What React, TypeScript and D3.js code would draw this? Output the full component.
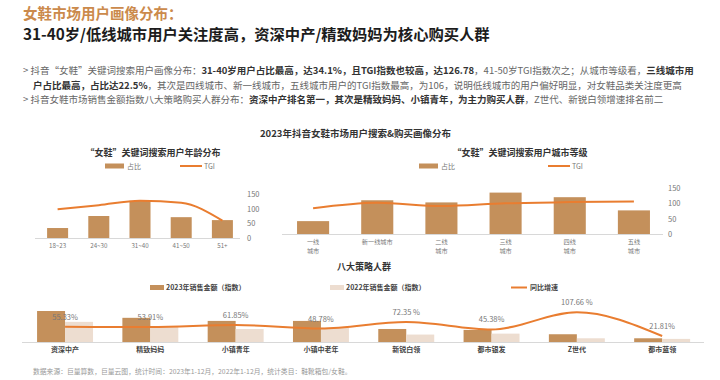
import React from "react";
import * as d3 from "d3";

const ageCats = ["18~23", "24~30", "31~40", "41~50", "51+"];
const ageShare = [34, 75, 127, 71, 61];
const ageTGI = [98, 112, 127, 120, 59];

const cityCats = ["一线\n城市", "新一线城市", "二线\n城市", "三线\n城市", "四线\n城市", "五线\n城市"];
const cityShare = [42, 110, 103, 135, 120, 77];
const cityTGI = [84, 102, 91, 100, 104, 106];

const axisTicks = [0, 50, 100, 150];

const groupCats = ["资深中产", "精致妈妈", "小镇青年", "小镇中老年", "新锐白领", "都市银发", "Z世代", "都市蓝领"];
const sales2023 = [100, 78, 68, 68, 42, 39, 25, 12];
const sales2022 = [65, 51, 42, 46, 24, 27, 12, 10];
const growth = [55.33, 53.91, 61.85, 48.78, 72.35, 45.38, 107.66, 21.81];
const growthLabels = ["55.33%", "53.91%", "61.85%", "48.78%", "72.35 %", "45.38%", "107.66 %", "21.81%"];

const TAN = "#C4905B";
const LIGHT = "#EDDDD0";
const LINE = "#E97D30";
const CJK = "'Noto Sans CJK SC', 'Noto Sans', sans-serif";

function SmallChart(props: {
  cats: string[]; share: number[]; tgi: number[];
  x0: number; x1: number; y0: number; y1: number; axisX: number; pad: number;
  title: string; titleX: number; legShare: number; legTgi: number;
  curve: any; lineStart: number; lineEnd: number;
}) {
  const { cats, share, tgi, x0, x1, y0, y1, axisX, pad, title, titleX, legShare, legTgi, curve, lineStart, lineEnd } = props;
  const x = d3.scaleBand<string>().domain(cats).range([x0, x1]).paddingInner(pad).paddingOuter(pad / 2);
  const y = d3.scaleLinear().domain([0, 150]).range([y0, y1]);
  const line = d3.line<number>()
    .x((_, i) => (x(cats[i]) as number) + x.bandwidth() / 2)
    .y((d) => y(d))
    .curve(curve);
  return (
    <g>
      <text x={titleX} y={156} textAnchor="middle" fontSize={9} fontWeight={700} fill="#333" fontFamily={CJK}>{title}</text>
      <rect x={legShare} y={163.5} width={19} height={5} fill={TAN} />
      <text x={legShare + 22} y={169} fontSize={7} fill="#777" fontFamily={CJK}>占比</text>
      <line x1={legTgi} x2={legTgi + 22} y1={166} y2={166} stroke={LINE} strokeWidth={2} />
      <text x={legTgi + 24} y={169} fontSize={7} fill="#777" fontFamily={CJK}>TGI</text>
      {axisTicks.map((t) => (
        <text key={t} x={axisX} y={y(t) + 3} fontSize={7.5} fill="#777" fontFamily={CJK}>{t}</text>
      ))}
      {cats.map((c, i) => (
        <rect key={c} x={x(c)} y={y(share[i])} width={x.bandwidth()} height={y0 - y(share[i])} fill={TAN} />
      ))}
      <line x1={lineStart} x2={lineEnd} y1={y0 + 0.5} y2={y0 + 0.5} stroke="#d8d8d8" strokeWidth={1} />
      <path d={line(tgi) || ""} fill="none" stroke={LINE} strokeWidth={2} />
      {cats.map((c) => {
        const parts = c.split("\n");
        const cx = (x(c) as number) + x.bandwidth() / 2;
        return (
          <g key={c}>
            {parts.map((p, j) => (
              <text key={j} x={cx} y={y0 + 10 + j * 8.5} textAnchor="middle" fontSize={6.2} fill="#777" fontFamily={CJK}>{p}</text>
            ))}
          </g>
        );
      })}
    </g>
  );
}

export default function App() {
  const gx = d3.scaleBand<string>().domain(groupCats).range([22.4, 704.8]).paddingInner(0.344).paddingOuter(0.172);
  const sub = d3.scaleBand<string>().domain(["2023", "2022"]).range([0, gx.bandwidth()]);
  const base = 342;
  const yb = d3.scaleLinear().domain([0, 100]).range([base, 311]);
  const yg = d3.scaleLinear().domain([0, 100]).range([base, 314.4]);
  const gline = d3.line<number>()
    .x((_, i) => (gx(groupCats[i]) as number) + gx.bandwidth() / 2)
    .y((d) => yg(d))
    .curve(d3.curveMonotoneX);

  const bodyFs = 9.5;
  return (
    <svg width={720} height={380} viewBox="0 0 720 380" style={{ position: "absolute", left: 0, top: 0, background: "#fff" }}>
      <rect x={0} y={0} width={720} height={380} fill="#fff" />
      <text x={23} y={19} fontSize={14.5} fontWeight={700} fill="#CB8A4C" fontFamily={CJK}>女鞋市场用户画像分布：</text>
      <text x={23} y={40} fontSize={15.3} fontWeight={700} fill="#1c1c1c" fontFamily={CJK}>31-40岁/低线城市用户关注度高，资深中产/精致妈妈为核心购买人群</text>

      <g fontFamily={CJK} fontSize={bodyFs} fill="#666">
        <text x={23} y={74}>
          <tspan>{"> 抖音“女鞋”关键词搜索用户画像分布："}</tspan>
          <tspan fontWeight={700} fill="#333">31-40岁用户占比最高，达34.1%，且TGI指数也较高，达126.78</tspan>
          <tspan>，41-50岁TGI指数次之；从城市等级看，</tspan>
          <tspan fontWeight={700} fill="#333">三线城市用</tspan>
        </text>
        <text x={33} y={89}>
          <tspan fontWeight={700} fill="#333">户占比最高，占比达22.5%</tspan>
          <tspan>，其次是四线城市、新一线城市，五线城市用户的TGI指数最高，为106，说明低线城市的用户偏好明显，对女鞋品类关注度更高</tspan>
        </text>
        <text x={23} y={103}>
          <tspan>{"> 抖音女鞋市场销售金额指数八大策略购买人群分布："}</tspan>
          <tspan fontWeight={700} fill="#333">资深中产排名第一，其次是精致妈妈、小镇青年，为主力购买人群</tspan>
          <tspan>，Z世代、新锐白领增速排名前二</tspan>
        </text>
      </g>

      <text x={260} y={137} fontSize={9.5} fontWeight={700} fill="#333" fontFamily={CJK}>2023年抖音女鞋市场用户搜索&amp;购买画像分布</text>

      <SmallChart cats={ageCats} share={ageShare} tgi={ageTGI} x0={37} x1={243} y0={238} y1={194} axisX={247} pad={0.49}
        title="“女鞋”关键词搜索用户年龄分布" titleX={153} legShare={105} legTgi={180} curve={d3.curveMonotoneX} lineStart={35} lineEnd={240} />
      <SmallChart cats={cityCats} share={cityShare} tgi={cityTGI} x0={281} x1={666} y0={234} y1={188} axisX={668} pad={0.5}
        title="“女鞋”关键词搜索用户城市等级" titleX={520} legShare={419} legTgi={548} curve={d3.curveMonotoneX} lineStart={282} lineEnd={663} />

      <text x={337} y={270} fontSize={9} fontWeight={700} fill="#333" fontFamily={CJK}>八大策略人群</text>
      <g fontFamily={CJK} fontSize={7} fill="#444" fontWeight={700}>
        <rect x={150} y={285} width={14} height={5} fill={TAN} />
        <text x={166} y={290}>2023年销售金额（指数）</text>
        <rect x={330} y={285} width={14} height={5} fill={LIGHT} />
        <text x={346} y={290}>2022年销售金额（指数）</text>
        <line x1={511} x2={527} y1={287.5} y2={287.5} stroke={LINE} strokeWidth={2} />
        <text x={530} y={290}>同比增速</text>
      </g>

      {groupCats.map((c, i) => (
        <g key={c}>
          <rect x={(gx(c) as number) + (sub("2023") as number)} y={yb(sales2023[i])} width={sub.bandwidth()} height={base - yb(sales2023[i])} fill={TAN} />
          <rect x={(gx(c) as number) + (sub("2022") as number)} y={yb(sales2022[i])} width={sub.bandwidth()} height={base - yb(sales2022[i])} fill={LIGHT} />
        </g>
      ))}
      <line x1={22} x2={704} y1={base + 0.5} y2={base + 0.5} stroke="#d8d8d8" strokeWidth={1} />
      <path d={gline(growth) || ""} fill="none" stroke={LINE} strokeWidth={2} />
      {groupCats.map((c, i) => {
        const cx = (gx(c) as number) + gx.bandwidth() / 2;
        return (
          <g key={c}>
            <text x={cx} y={yg(growth[i]) - 7} textAnchor="middle" fontSize={7.5} fill="#777" fontFamily={CJK}>{growthLabels[i]}</text>
            <text x={cx} y={base + 10} textAnchor="middle" fontSize={7} fontWeight={700} fill="#444" fontFamily={CJK}>{c}</text>
          </g>
        );
      })}

      <text x={33} y={374} fontSize={6.8} fill="#999" fontFamily={CJK}>数据来源：巨量算数，巨量云图，统计时间：2023年1-12月，2022年1-12月，统计类目：鞋靴箱包/女鞋。</text>
    </svg>
  );
}
